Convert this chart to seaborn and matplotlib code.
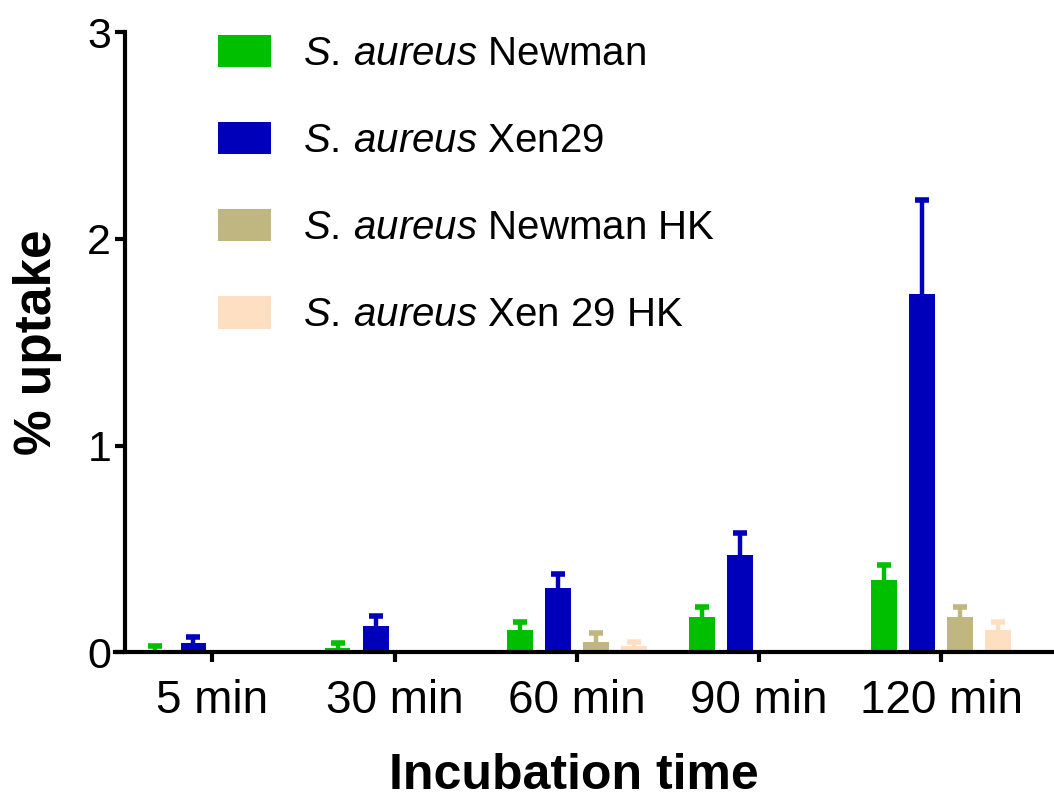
import numpy as np
import pandas as pd
import matplotlib
matplotlib.use("Agg")
import matplotlib.pyplot as plt
import seaborn as sns

# ---- data ----
times = ["5 min", "30 min", "60 min", "90 min", "120 min"]
strains = ["Newman", "Xen29", "Newman HK", "Xen 29 HK"]
legend_labels = [r"$\mathit{S.\,aureus}$ Newman",
                 r"$\mathit{S.\,aureus}$ Xen29",
                 r"$\mathit{S.\,aureus}$ Newman HK",
                 r"$\mathit{S.\,aureus}$ Xen 29 HK"]
newman = [0.012, 0.022, 0.106, 0.170, 0.350]
newman_err = [0.018, 0.023, 0.040, 0.050, 0.075]
xen29 = [0.045, 0.126, 0.310, 0.470, 1.736]
xen29_err = [0.029, 0.048, 0.070, 0.110, 0.455]
newman_hk = [0.0, 0.0, 0.050, 0.0, 0.170]
newman_hk_err = [np.nan, np.nan, 0.043, np.nan, 0.050]
xen29_hk = [0.0, 0.0, 0.030, 0.0, 0.110]
xen29_hk_err = [np.nan, np.nan, 0.020, np.nan, 0.036]
colors = ["#00BE00", "#0000BB", "#C0B67F", "#FFDFC1"]

values = [newman, xen29, newman_hk, xen29_hk]
errors = [newman_err, xen29_err, newman_hk_err, xen29_hk_err]

df = pd.DataFrame({
    "time": times * len(strains),
    "strain": [s for s in strains for _ in times],
    "value": [v for vals in values for v in vals],
})

sns.set_style("ticks")
plt.rcParams["font.family"] = ["Liberation Sans", "DejaVu Sans"]
plt.rcParams["mathtext.fontset"] = "custom"
plt.rcParams["mathtext.it"] = "Liberation Sans:italic"
plt.rcParams["mathtext.rm"] = "Liberation Sans"
for k in ["text.color", "axes.labelcolor", "xtick.color", "ytick.color",
          "xtick.labelcolor", "ytick.labelcolor"]:
    plt.rcParams[k] = "black"

fig = plt.figure(figsize=(10.54, 8), dpi=100)
ax = fig.add_axes([115 / 1054, (800 - 652.4) / 800, 1 - 115 / 1054, (652.4 - 32.3) / 800])

sns.barplot(data=df, x="time", y="value", hue="strain", order=times,
            hue_order=strains, palette=colors, saturation=1, width=0.835,
            gap=0.32, errorbar=None, dodge=True, ax=ax, linewidth=0)

for cont, errs, col in zip(ax.containers, errors, colors):
    for patch, e in zip(cont.patches, errs):
        if np.isnan(e):
            continue
        xc = patch.get_x() + patch.get_width() / 2
        h = patch.get_height()
        _, caps, _ = ax.errorbar([xc], [h], yerr=[[0], [e]], fmt="none",
                                 ecolor=col, elinewidth=3.2, capsize=5,
                                 capthick=4, zorder=3)
        for c in caps:
            if np.allclose(c.get_ydata(), h):
                c.set_visible(False)

ax.set_ylim(0, 3)
ax.set_xlim(-0.535, 4.62)
ax.set_yticks([0, 1, 2, 3])
ax.set_yticklabels(["0", "1", "2", "3"])
ax.spines["left"].set_position(("data", -0.48))
for s in ["top", "right"]:
    ax.spines[s].set_visible(False)
for s in ["left", "bottom"]:
    ax.spines[s].set_linewidth(3)
    ax.spines[s].set_color("black")
ax.spines["left"].set_bounds(0, 3)

ax.tick_params(axis="y", length=7, width=3, labelsize=31, pad=3, color="black")
ax.tick_params(axis="x", length=7, width=3, labelsize=33, pad=12, color="black")

ax.set_xlabel("Incubation time", fontsize=36, fontweight="bold")
ax.set_ylabel("% uptake", fontsize=37, fontweight="bold")
ax.yaxis.set_label_coords(-0.056, 0.5)
ax.xaxis.set_label_coords(0.489, -0.163)

handles, _ = ax.get_legend_handles_labels()
leg = ax.legend(handles, legend_labels, loc="upper left",
                bbox_to_anchor=(218 / 1054, 765 / 800),
                bbox_transform=fig.transFigure, frameon=False, fontsize=29,
                handlelength=1.32, handleheight=0.85, handletextpad=0.8,
                labelspacing=1.22, borderpad=0, borderaxespad=0)

fig.savefig("out.png", dpi=100)
